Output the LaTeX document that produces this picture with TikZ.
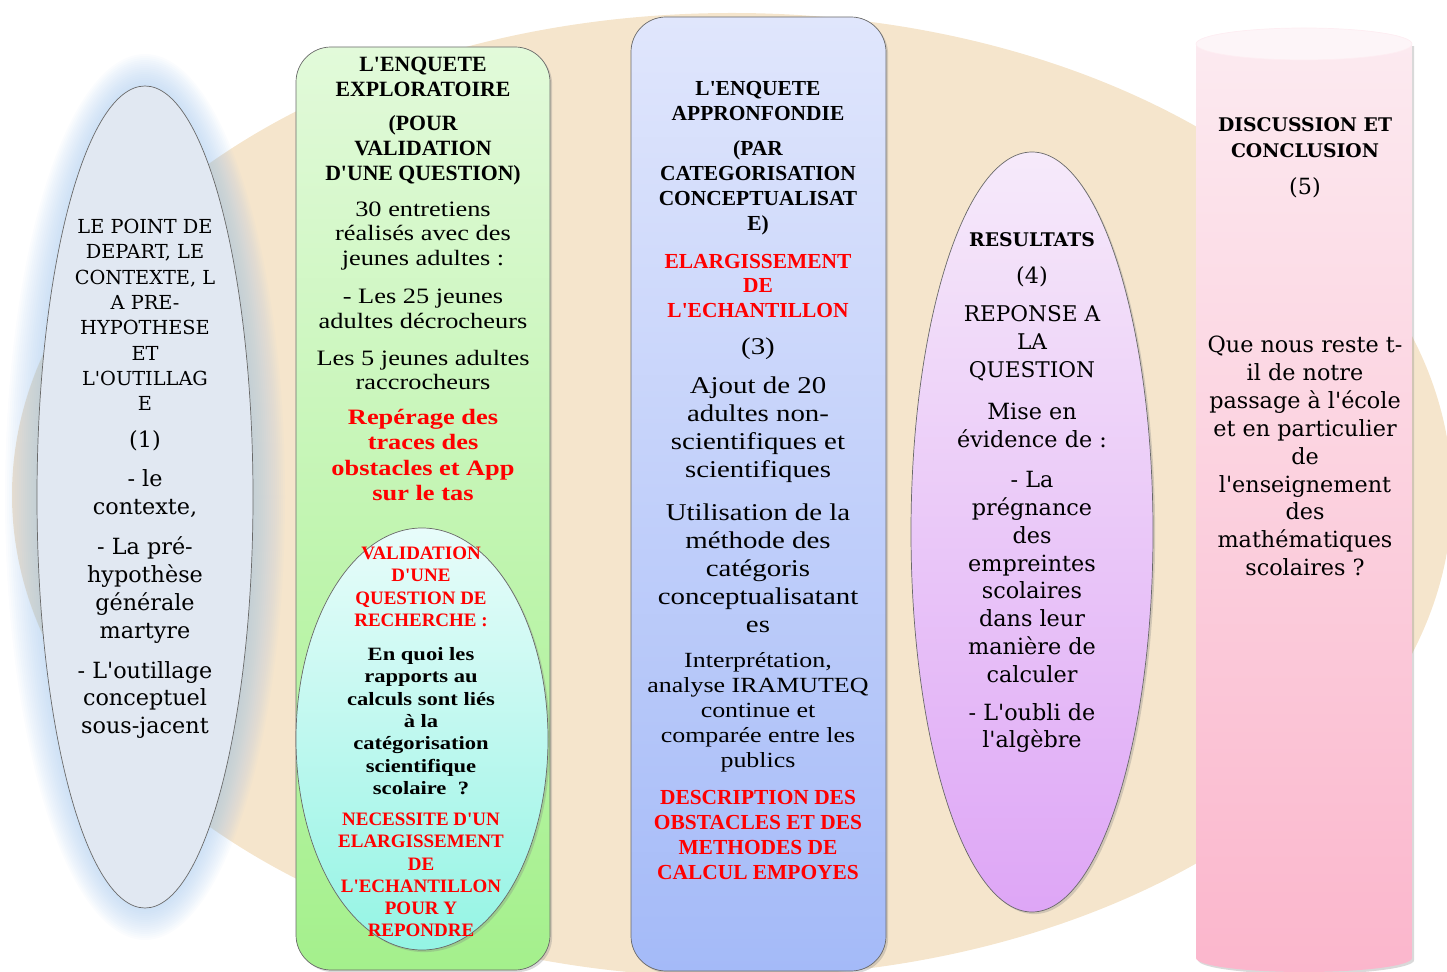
\documentclass[tikz,border=0pt]{standalone}
\usepackage{fontspec}
\setmainfont{Liberation Serif}[Ligatures=TeXOff]
\newfontfamily\boxrm{Liberation Serif}[FakeStretch=1.2,Ligatures=TeXOff]
\newfontfamily\ovalrm{DejaVu Serif}[Ligatures=TeXOff]
\usetikzlibrary{shadows}
\definecolor{beige}{RGB}{245,229,204}
\definecolor{bleuvoile}{RGB}{225,232,242}
\definecolor{halo}{RGB}{160,196,236}
\definecolor{vertclair}{RGB}{226,250,218}
\definecolor{vertfonce}{RGB}{164,240,140}
\definecolor{cyanclair}{RGB}{232,252,250}
\definecolor{cyanfonce}{RGB}{148,244,228}
\definecolor{bleuclair}{RGB}{224,230,252}
\definecolor{bleufonce}{RGB}{164,186,248}
\definecolor{mauveclair}{RGB}{246,234,250}
\definecolor{mauvefonce}{RGB}{222,166,246}
\definecolor{roseclair}{RGB}{252,234,240}
\definecolor{rosefonce}{RGB}{251,182,204}
\definecolor{rouge}{RGB}{255,0,0}
\definecolor{bord}{RGB}{105,105,105}
\newcommand{\taille}[2]{\fontsize{#1}{#2}\selectfont}
\tikzset{
  txt/.style={align=center, inner sep=0pt},
  ombre/.style={drop shadow={opacity=0.3, shadow xshift=1.2pt, shadow yshift=-1.2pt}}
}

\begin{document}
\begin{tikzpicture}[x=0.02cm, y=0.02cm]
\clip (0,0) rectangle (1447,-972);
\fill [beige] (732,-495) ellipse [x radius=720, y radius=482];

\foreach \k in {1,...,16} {\fill [halo, opacity=0.045] (145,-497) ellipse [x radius={108+2*\k}, y radius={411+2*\k}];}
\draw [bord, fill=bleuvoile] (145,-497) ellipse [x radius=108, y radius=411];

\path [draw=bord, top color=vertclair, bottom color=vertfonce, rounded corners=0.7cm, ombre] (296,-47) rectangle (550,-970);
\path [draw=bord, top color=cyanclair, bottom color=cyanfonce, ombre] (422,-739) ellipse [x radius=126, y radius=211];
\path [draw=bord, top color=bleuclair, bottom color=bleufonce, rounded corners=0.7cm, ombre] (631,-17) rectangle (886,-971);
\path [draw=bord, top color=mauveclair, bottom color=mauvefonce, ombre] (1032,-532) ellipse [x radius=121, y radius=380];
\path [top color=roseclair, bottom color=rosefonce, ombre] (1196,-44) -- (1196,-958) arc [start angle=180, end angle=360, x radius=108, y radius=14] -- (1412,-44) -- cycle;
\fill [roseclair!50!white, draw=rosefonce!25] (1304,-44) ellipse [x radius=108, y radius=16];

\node [txt, font=\ovalrm\taille{11}{14.4}] (depart) at (145,-315) {LE POINT DE\\DEPART, LE\\CONTEXTE, L\\A PRE-\\HYPOTHESE\\ET\\L'OUTILLAG\\E};
\node [txt, font=\ovalrm\taille{12.7}{15.9}] (un) at (145,-441) {(1)};
\node [txt, font=\ovalrm\taille{12.7}{15.9}] (contexte) at (145,-494) {- le\\contexte,};
\node [txt, font=\ovalrm\taille{12.7}{15.9}] (prehyp) at (145,-590) {- La pré-\\hypothèse\\générale\\martyre};
\node [txt, font=\ovalrm\taille{12.7}{15.9}] (outillage) at (145,-700) {- L'outillage\\conceptuel\\sous-jacent};

\node [txt, font=\bfseries\taille{12.4}{14.6}] (explo) at (423,-77) {L'ENQUETE\\EXPLORATOIRE};
\node [txt, font=\bfseries\taille{12.4}{14.2}] (pour) at (423,-150) {(POUR\\VALIDATION\\D'UNE QUESTION)};
\node [txt, font=\boxrm\taille{12.5}{14.2}] (entretiens) at (423,-236) {30 entretiens\\réalisés avec des\\jeunes adultes :};
\node [txt, font=\boxrm\taille{12.5}{14.2}] (decro) at (423,-309) {- Les 25 jeunes\\adultes décrocheurs};
\node [txt, font=\boxrm\taille{12.5}{14.2}] (raccro) at (423,-370) {Les 5 jeunes adultes\\raccrocheurs};
\node [txt, rouge, font=\boxrm\bfseries\taille{12.5}{14.4}] (reperage) at (423,-455) {Repérage des\\traces des\\obstacles et App\\sur le tas};

\node [txt, rouge, font=\bfseries\taille{10.8}{12.7}] (validation) at (421,-587) {VALIDATION\\D'UNE\\QUESTION DE\\RECHERCHE :};
\node [txt, font=\boxrm\bfseries\taille{10.7}{12.7}] (enquoi) at (421,-721) {En quoi les\\rapports au\\calculs sont liés\\à la\\catégorisation\\scientifique\\scolaire~ ?};
\node [txt, rouge, font=\bfseries\taille{10.8}{12.7}] (necessite) at (421,-875) {NECESSITE D'UN\\ELARGISSEMENT\\DE\\L'ECHANTILLON\\POUR Y\\REPONDRE};

\node [txt, font=\bfseries\taille{12.2}{14.2}] (appro) at (758,-101) {L'ENQUETE\\APPRONFONDIE};
\node [txt, font=\bfseries\taille{12.2}{14.2}] (par) at (758,-188) {(PAR\\CATEGORISATION\\CONCEPTUALISAT\\E)};
\node [txt, rouge, font=\bfseries\taille{12.2}{14.2}] (elarg) at (758,-286) {ELARGISSEMENT\\DE\\L'ECHANTILLON};
\node [txt, font=\boxrm\taille{13.7}{15.9}] (trois) at (758,-349) {(3)};
\node [txt, font=\boxrm\taille{13.7}{15.9}] (ajout) at (758,-430) {Ajout de 20\\adultes non-\\scientifiques et\\scientifiques};
\node [txt, font=\boxrm\taille{13.7}{15.9}] (methode) at (758,-568) {Utilisation de la\\méthode des\\catégoris\\conceptualisatant\\es};
\node [txt, font=\boxrm\taille{12.3}{14.2}] (interp) at (758,-712) {Interprétation,\\analyse IRAMUTEQ\\continue et\\comparée entre les\\publics};
\node [txt, rouge, font=\bfseries\taille{12.2}{14.4}] (descr) at (758,-835) {DESCRIPTION DES\\OBSTACLES ET DES\\METHODES DE\\CALCUL EMPOYES};

\node [txt, font=\ovalrm\bfseries\taille{10.7}{14}] (resultats) at (1032,-240) {RESULTATS};
\node [txt, font=\ovalrm\taille{12.7}{15.9}] (quatre) at (1032,-277) {(4)};
\node [txt, font=\ovalrm\taille{12.3}{15.9}] (reponse) at (1032,-343) {REPONSE A\\LA\\QUESTION};
\node [txt, font=\ovalrm\taille{12.7}{15.9}] (mise) at (1032,-425) {Mise en\\évidence de :};
\node [txt, font=\ovalrm\taille{12.7}{15.9}] (pregnance) at (1032,-577) {- La\\prégnance\\des\\empreintes\\scolaires\\dans leur\\manière de\\calculer};
\node [txt, font=\ovalrm\taille{12.7}{15.9}] (oubli) at (1032,-728) {- L'oubli de\\l'algèbre};

\node [txt, font=\ovalrm\bfseries\taille{10.7}{14.7}] (discussion) at (1305,-138) {DISCUSSION ET\\CONCLUSION};
\node [txt, font=\ovalrm\taille{12.7}{15.9}] (cinq) at (1305,-188) {(5)};
\node [txt, font=\ovalrm\taille{12.7}{15.9}] (reste) at (1305,-456) {Que nous reste t-\\il de notre\\passage à l'école\\et en particulier\\de\\l'enseignement\\des\\mathématiques\\scolaires ?};
\end{tikzpicture}
\end{document}
